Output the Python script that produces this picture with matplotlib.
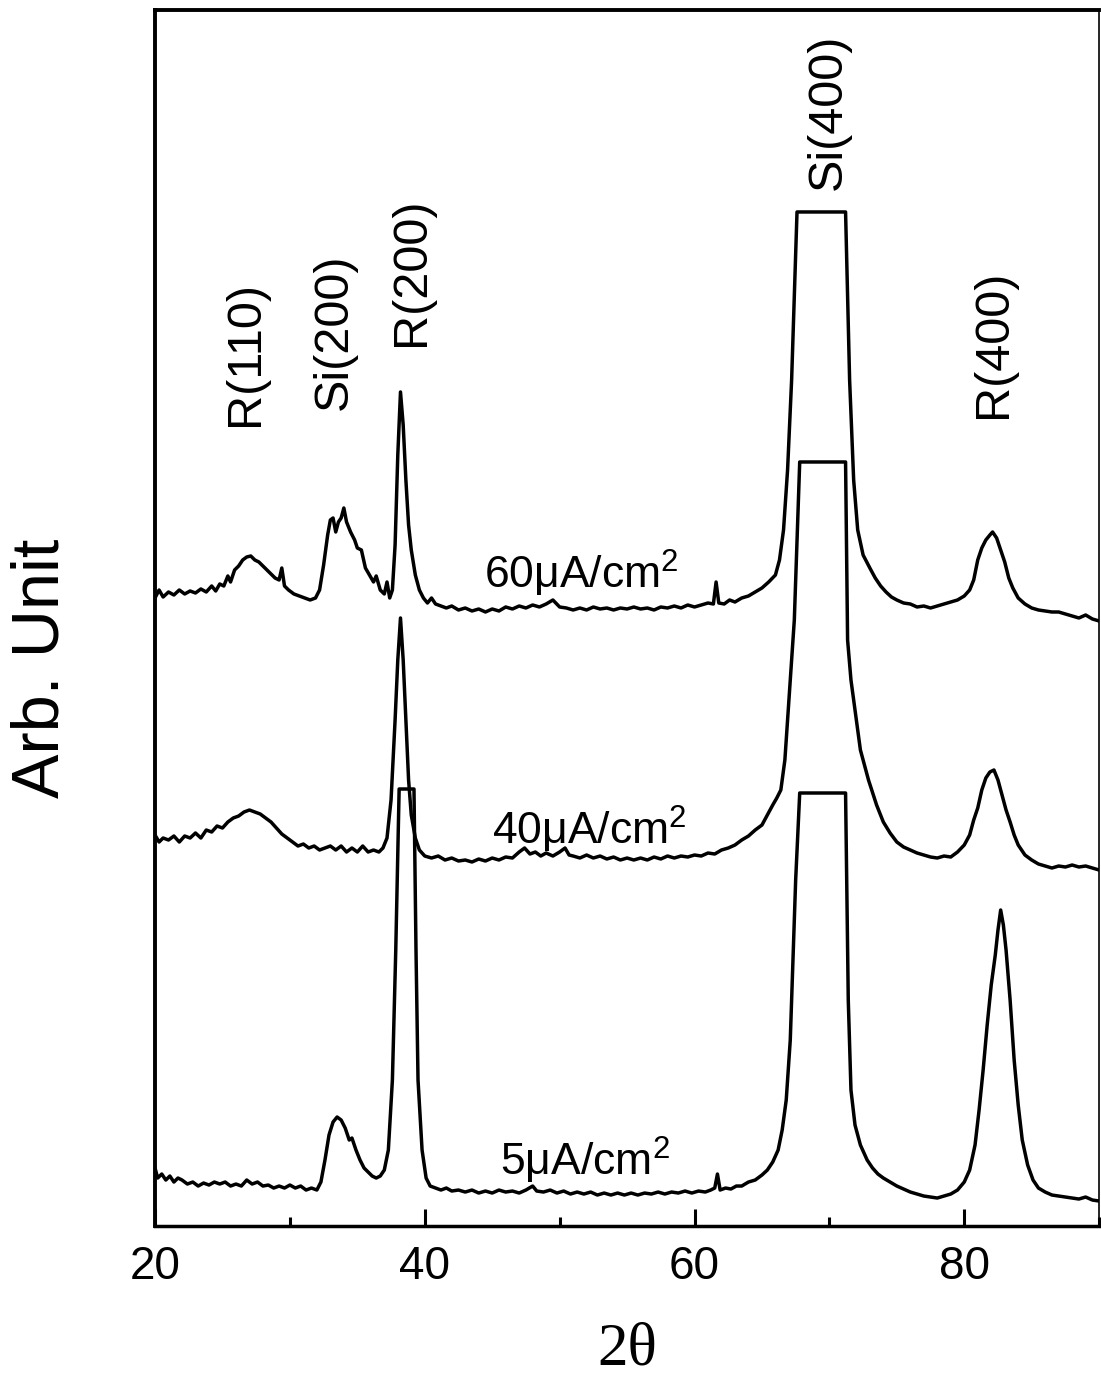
import numpy as np
import matplotlib
matplotlib.use("Agg")
import matplotlib.pyplot as plt

plt.rcParams['font.family'] = ['Liberation Sans', 'DejaVu Sans']
plt.rcParams['mathtext.fontset'] = 'custom'
plt.rcParams['mathtext.rm'] = 'Liberation Sans'
plt.rcParams['mathtext.default'] = 'regular'

# 2-theta / intensity readings, 60 uA/cm2
two_theta_60 = [20.0, 20.3, 20.6, 21.0, 21.4, 21.8, 22.2, 22.6, 23.0, 23.4, 23.8, 24.2, 24.5, 24.8,
                25.1, 25.4, 25.6, 25.9, 26.2, 26.5, 26.8, 27.1, 27.4, 27.7, 28.0, 28.3, 28.6, 28.9,
                29.2, 29.4, 29.6, 29.9, 30.3, 30.7, 31.1, 31.5, 31.9, 32.2, 32.5, 32.8, 33.0, 33.2,
                33.4, 33.6, 33.8, 34.0, 34.2, 34.5, 34.8, 35.0, 35.3, 35.6, 35.9, 36.2, 36.4, 36.7,
                37.0, 37.2, 37.4, 37.6, 37.8, 38.0, 38.2, 38.4, 38.6, 38.8, 39.0, 39.3, 39.6, 39.9,
                40.2, 40.5, 40.8, 41.2, 41.6, 42.0, 42.5, 43.0, 43.5, 44.0, 44.5, 45.0, 45.5, 46.0,
                46.5, 47.0, 47.5, 48.0, 48.5, 49.0, 49.5, 50.0, 50.5, 51.0, 51.5, 52.0, 52.5, 53.0,
                53.5, 54.0, 54.5, 55.0, 55.5, 56.0, 56.5, 57.0, 57.5, 58.0, 58.5, 59.0, 59.5, 60.0,
                60.5, 61.0, 61.4, 61.6, 61.8, 62.2, 62.6, 63.0, 63.5, 64.0, 64.5, 65.0, 65.5, 66.0,
                66.3, 66.6, 66.9, 67.2, 67.6, 71.2, 71.5, 71.8, 72.1, 72.5, 73.0, 73.4, 73.8, 74.2,
                74.6, 75.0, 75.5, 76.0, 76.5, 77.0, 77.5, 78.0, 78.5, 79.0, 79.5, 80.0, 80.4, 80.7,
                81.0, 81.3, 81.6, 81.9, 82.1, 82.4, 82.7, 83.0, 83.3, 83.6, 84.0, 84.5, 85.0, 85.5,
                86.0, 86.5, 87.0, 87.5, 88.0, 88.5, 89.0, 89.5, 90.0]
intensity_60 = [628, 636, 629, 634, 631, 636, 632, 635, 633, 637, 634, 640, 635, 642,
                640, 650, 644, 656, 660, 666, 669, 670, 666, 664, 660, 656, 652, 648,
                646, 658, 640, 636, 632, 630, 628, 626, 628, 636, 661, 691, 706, 708,
                694, 704, 708, 718, 704, 694, 686, 678, 676, 658, 651, 644, 650, 636,
                632, 644, 628, 636, 681, 771, 834, 801, 746, 701, 676, 651, 636, 628,
                623, 628, 622, 620, 618, 620, 616, 618, 615, 617, 614, 617, 615, 619,
                617, 620, 618, 621, 619, 622, 626, 619, 618, 616, 618, 616, 619, 617,
                618, 616, 618, 617, 619, 617, 618, 616, 619, 618, 620, 618, 621, 619,
                621, 623, 622, 644, 623, 622, 626, 624, 628, 630, 634, 638, 644, 651,
                666, 696, 756, 846, 1014, 1014, 846, 746, 696, 671, 658, 648, 640, 634,
                629, 626, 623, 622, 619, 620, 618, 620, 622, 624, 626, 630, 636, 646,
                666, 678, 686, 691, 694, 688, 676, 664, 648, 638, 628, 622, 618, 616,
                615, 614, 614, 612, 610, 608, 611, 607, 605]

# 40 uA/cm2
two_theta_40 = [20.0, 20.3, 20.6, 21.0, 21.4, 21.8, 22.2, 22.6, 23.0, 23.4, 23.8, 24.2, 24.6, 25.0,
                25.4, 25.8, 26.2, 26.6, 27.0, 27.4, 27.8, 28.2, 28.6, 29.0, 29.4, 29.8, 30.2, 30.6,
                31.0, 31.4, 31.8, 32.2, 32.6, 33.0, 33.4, 33.8, 34.2, 34.6, 35.0, 35.4, 35.8, 36.2,
                36.6, 36.9, 37.2, 37.5, 37.8, 38.0, 38.2, 38.4, 38.6, 38.8, 39.0, 39.3, 39.6, 40.0,
                40.5, 41.0, 41.5, 42.0, 42.5, 43.0, 43.5, 44.0, 44.5, 45.0, 45.5, 46.0, 46.5, 47.0,
                47.4, 47.8, 48.2, 48.6, 49.0, 49.5, 50.0, 50.4, 50.7, 51.0, 51.5, 52.0, 52.5, 53.0,
                53.5, 54.0, 54.5, 55.0, 55.5, 56.0, 56.5, 57.0, 57.5, 58.0, 58.5, 59.0, 59.5, 60.0,
                60.5, 61.0, 61.5, 62.0, 62.5, 63.0, 63.5, 64.0, 64.5, 65.0, 65.4, 65.8, 66.1, 66.4,
                66.7, 66.9, 67.2, 67.4, 67.8, 71.2, 71.35, 71.6, 72.0, 72.3, 72.9, 73.5, 74.0, 74.5,
                75.0, 75.5, 76.0, 76.5, 77.0, 77.5, 78.0, 78.5, 79.0, 79.5, 80.0, 80.4, 80.7, 81.0,
                81.3, 81.6, 81.9, 82.2, 82.5, 82.8, 83.1, 83.4, 83.7, 84.0, 84.5, 85.0, 85.5, 86.0,
                86.5, 87.0, 87.5, 88.0, 88.5, 89.0, 89.5, 90.0]
intensity_40 = [391, 384, 388, 386, 390, 384, 390, 388, 393, 388, 396, 394, 400, 398,
                404, 408, 410, 414, 416, 414, 412, 408, 404, 398, 392, 388, 384, 380,
                382, 378, 380, 376, 378, 380, 376, 380, 374, 378, 374, 380, 374, 376,
                374, 378, 388, 426, 506, 566, 608, 566, 506, 446, 411, 388, 376, 370,
                368, 370, 366, 368, 365, 366, 364, 367, 365, 368, 366, 369, 368, 374,
                378, 372, 374, 370, 373, 370, 374, 378, 371, 370, 368, 371, 368, 370,
                367, 369, 366, 368, 366, 368, 366, 369, 367, 370, 368, 370, 369, 371,
                370, 373, 372, 376, 378, 381, 386, 390, 396, 401, 411, 421, 428, 436,
                466, 506, 566, 606, 764, 764, 586, 546, 506, 476, 446, 421, 404, 393,
                384, 379, 376, 373, 371, 369, 368, 370, 369, 374, 381, 391, 406, 418,
                436, 448, 454, 456, 446, 431, 416, 404, 391, 381, 371, 366, 362, 360,
                358, 360, 359, 361, 359, 360, 358, 356]

# 5 uA/cm2
two_theta_5 = [20.0, 20.2, 20.5, 20.8, 21.1, 21.4, 21.7, 22.0, 22.4, 22.8, 23.2, 23.6, 24.0, 24.4,
               24.8, 25.2, 25.6, 26.0, 26.4, 26.8, 27.2, 27.6, 28.0, 28.4, 28.8, 29.2, 29.6, 30.0,
               30.4, 30.8, 31.2, 31.6, 32.0, 32.3, 32.6, 32.9, 33.2, 33.5, 33.8, 34.1, 34.4, 34.6,
               34.9, 35.2, 35.5, 35.8, 36.1, 36.4, 36.7, 37.0, 37.3, 37.6, 37.85, 38.1, 39.2, 39.35,
               39.5, 39.8, 40.1, 40.4, 40.8, 41.2, 41.6, 42.0, 42.5, 43.0, 43.5, 44.0, 44.5, 45.0,
               45.5, 46.0, 46.5, 47.0, 47.5, 48.0, 48.3, 48.8, 49.3, 49.8, 50.3, 50.8, 51.3, 51.8,
               52.3, 52.8, 53.3, 53.8, 54.3, 54.8, 55.3, 55.8, 56.3, 56.8, 57.3, 57.8, 58.3, 58.8,
               59.3, 59.8, 60.3, 60.8, 61.2, 61.5, 61.7, 61.9, 62.3, 62.7, 63.1, 63.5, 64.0, 64.5,
               65.0, 65.4, 65.8, 66.2, 66.5, 66.8, 67.1, 67.3, 67.5, 67.8, 71.2, 71.3, 71.4, 71.6,
               71.9, 72.3, 72.8, 73.2, 73.6, 74.0, 74.5, 75.0, 75.5, 76.0, 76.5, 77.0, 77.5, 78.0,
               78.5, 79.0, 79.5, 80.0, 80.4, 80.8, 81.1, 81.4, 81.7, 82.0, 82.3, 82.5, 82.7, 82.9,
               83.1, 83.4, 83.7, 84.0, 84.3, 84.7, 85.1, 85.5, 86.0, 86.5, 87.0, 87.5, 88.0, 88.5,
               89.0, 89.5, 90.0]
intensity_5 = [58, 48, 52, 46, 50, 44, 48, 46, 42, 44, 40, 43, 41, 44,
               42, 44, 40, 42, 40, 46, 42, 44, 40, 41, 38, 40, 38, 41,
               38, 40, 36, 38, 36, 44, 66, 91, 104, 109, 106, 98, 86, 88,
               76, 66, 58, 54, 50, 48, 50, 56, 76, 146, 276, 437, 437, 276,
               146, 76, 48, 40, 38, 36, 38, 35, 36, 34, 36, 33, 35, 33,
               36, 34, 35, 33, 36, 40, 35, 34, 36, 33, 35, 32, 34, 32,
               34, 31, 33, 31, 33, 31, 33, 31, 33, 32, 34, 32, 34, 33,
               35, 33, 35, 34, 36, 38, 52, 36, 38, 37, 40, 40, 44, 46,
               51, 56, 64, 76, 96, 126, 186, 266, 346, 433, 433, 326, 226, 136,
               101, 81, 66, 58, 52, 48, 44, 40, 37, 34, 32, 30, 29, 28,
               30, 32, 36, 44, 56, 81, 116, 156, 201, 241, 271, 296, 316, 301,
               276, 226, 166, 121, 86, 61, 46, 38, 34, 31, 30, 29, 28, 27,
               29, 26, 25]

curve_labels = ['60\u03bcA/cm$^2$', '40\u03bcA/cm$^2$', '5\u03bcA/cm$^2$']
peak_names = ['R(110)', 'Si(200)', 'R(200)', 'Si(400)', 'R(400)']
peak_pos = [26.7, 33.3, 39.0, 69.9, 82.2]

fig = plt.figure(figsize=(11.01, 13.83), dpi=100)
ax = fig.add_axes([0.1408, 0.1135, 0.8575, 0.8793])

for tt, yy in [(two_theta_60, intensity_60), (two_theta_40, intensity_40), (two_theta_5, intensity_5)]:
    ax.plot(tt, yy, color='black', lw=2.5, solid_joinstyle='round')

ax.set_xlim(20, 90)
ax.set_ylim(0, 1216)
ax.set_xticks([20, 40, 60, 80])
ax.set_xticks([30, 50, 70, 90], minor=True)
ax.set_yticks([])
ax.tick_params(axis='x', which='major', direction='in', length=12, width=2.2,
               labelsize=33, pad=14)
ax.tick_params(axis='x', which='minor', direction='in', length=6.5, width=2.2)
for side, w in [('left', 2.8), ('top', 2.8), ('bottom', 2.5), ('right', 1.2)]:
    ax.spines[side].set_linewidth(w)

# curve labels
ax.text(44.4, 637, curve_labels[0], fontsize=32, ha='left', va='baseline')
ax.text(45.0, 381, curve_labels[1], fontsize=32, ha='left', va='baseline')
ax.text(45.6, 50, curve_labels[2], fontsize=32, ha='left', va='baseline')

# peak labels
peak_y = [872, 894, 954, 1114, 882]
for name, x, y in zip(peak_names, peak_pos, peak_y):
    ax.text(x, y, name, fontsize=35, rotation=90, ha='center', va='center')

fig.text(0.038, 0.517, 'Arb. Unit', fontsize=48, rotation=90, ha='center', va='center')
fig.text(0.5695, 0.024, '2\u03b8', fontsize=44, ha='center', va='center',
         family=['Liberation Serif', 'DejaVu Serif'])

plt.savefig('out.png', dpi=100)
